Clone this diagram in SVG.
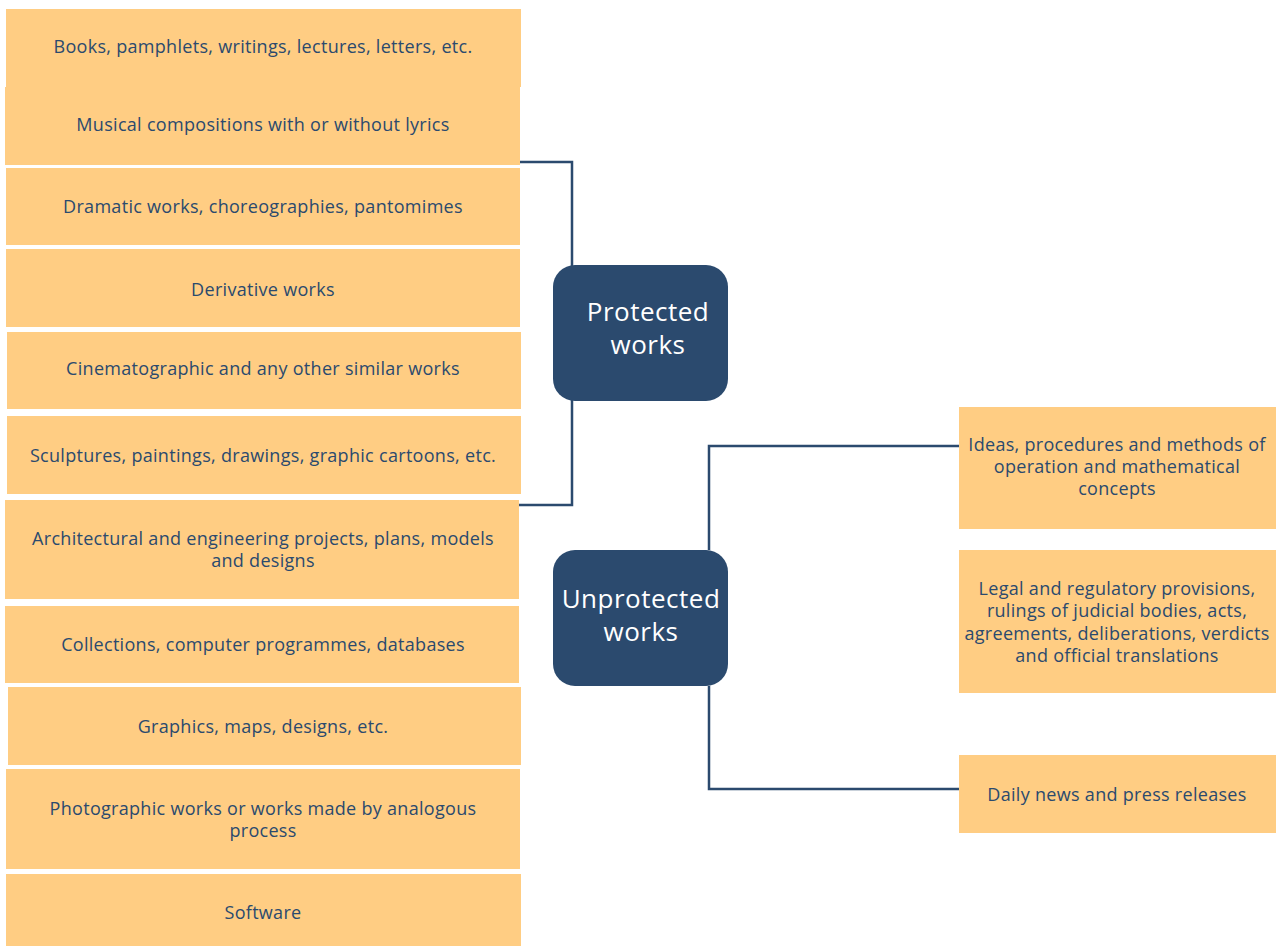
<svg xmlns="http://www.w3.org/2000/svg" width="1276" height="946" viewBox="0 0 1276 946">
<style>
.box{fill:#FFCD83;}
.hub{fill:#2B4A6E;}
.t{font-family:"Open Sans",Lato,sans-serif;font-size:18px;letter-spacing:0.3px;fill:#2B4A6E;text-anchor:middle;}
.h{font-family:"Open Sans",Lato,sans-serif;font-size:26px;letter-spacing:0.5px;fill:#FFFFFF;text-anchor:middle;}
.c{fill:none;stroke:#2B4A6E;stroke-width:2.5;}
</style>
<rect width="1276" height="946" fill="#FFFFFF"/>
<g id="connectors">
<path class="c" d="M520 162 H572 V505 H519"/>
<path class="c" d="M709 550 V446 H960"/>
<path class="c" d="M709 686 V789 H960"/>
</g>
<g id="n1"><rect class="box" x="6" y="9" width="515" height="78"/><text class="t" x="263" y="53">Books, pamphlets, writings, lectures, letters, etc.</text></g>
<g id="n2"><rect class="box" x="5" y="87" width="515" height="78"/><text class="t" x="263" y="131">Musical compositions with or without lyrics</text></g>
<g id="n3"><rect class="box" x="6" y="168" width="514" height="77"/><text class="t" x="263" y="213">Dramatic works, choreographies, pantomimes</text></g>
<g id="n4"><rect class="box" x="6" y="249" width="514" height="78"/><text class="t" x="263" y="296">Derivative works</text></g>
<g id="n5"><rect class="box" x="7" y="332" width="514" height="77"/><text class="t" x="263" y="375">Cinematographic and any other similar works</text></g>
<g id="n6"><rect class="box" x="7" y="416" width="514" height="78"/><text class="t" x="263" y="462">Sculptures, paintings, drawings, graphic cartoons, etc.</text></g>
<g id="n7"><rect class="box" x="5" y="500" width="514" height="99"/><text class="t" x="263" y="545">Architectural and engineering projects, plans, models</text><text class="t" x="263" y="567">and designs</text></g>
<g id="n8"><rect class="box" x="5" y="606" width="514" height="77"/><text class="t" x="263" y="651">Collections, computer programmes, databases</text></g>
<g id="n9"><rect class="box" x="8" y="687" width="513" height="78"/><text class="t" x="263" y="733">Graphics, maps, designs, etc.</text></g>
<g id="n10"><rect class="box" x="6" y="769" width="514" height="100"/><text class="t" x="263" y="815">Photographic works or works made by analogous</text><text class="t" x="263" y="837">process</text></g>
<g id="n11"><rect class="box" x="6" y="874" width="515" height="72"/><text class="t" x="263" y="919">Software</text></g>
<g id="protected"><rect class="hub" x="553" y="265" width="175" height="136" rx="22"/><text class="h" x="648" y="321">Protected</text><text class="h" x="648" y="354">works</text></g>
<g id="unprotected"><rect class="hub" x="553" y="550" width="175" height="136" rx="22"/><text class="h" x="641" y="608">Unprotected</text><text class="h" x="641" y="641">works</text></g>
<g id="r1"><rect class="box" x="959" y="407" width="317" height="122"/><text class="t" x="1117" y="451">Ideas, procedures and methods of</text><text class="t" x="1117" y="473">operation and mathematical</text><text class="t" x="1117" y="495">concepts</text></g>
<g id="r2"><rect class="box" x="959" y="550" width="317" height="143"/><text class="t" x="1117" y="595">Legal and regulatory provisions,</text><text class="t" x="1117" y="617">rulings of judicial bodies, acts,</text><text class="t" x="1117" y="640">agreements, deliberations, verdicts</text><text class="t" x="1117" y="662">and official translations</text></g>
<g id="r3"><rect class="box" x="959" y="755" width="317" height="78"/><text class="t" x="1117" y="801">Daily news and press releases</text></g>
</svg>
